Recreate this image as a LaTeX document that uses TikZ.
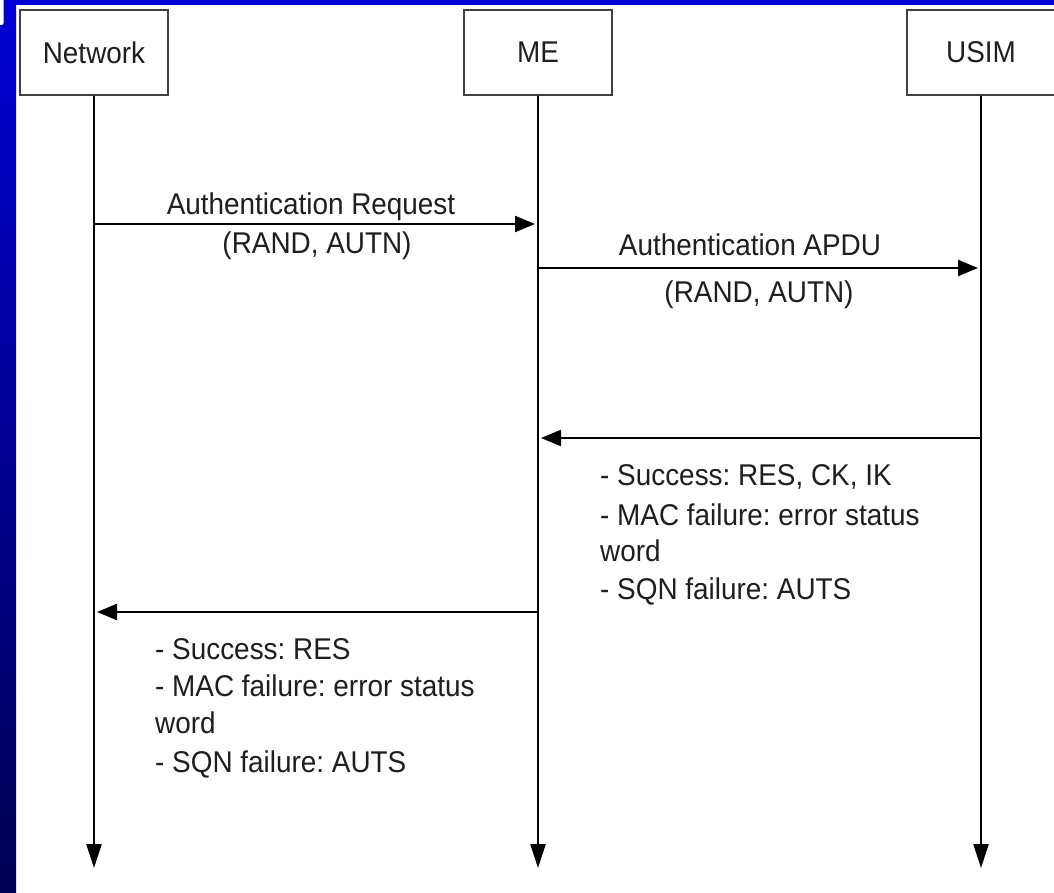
\documentclass[tikz,border=0pt]{standalone}
\usepackage{fontspec}
\setmainfont[FakeStretch=0.93]{Liberation Sans}
\usetikzlibrary{arrows.meta}
\definecolor{frameblue}{RGB}{0,0,212}
\definecolor{framenavy}{RGB}{0,0,82}
\definecolor{inkgray}{RGB}{30,30,30}
\frenchspacing
\begin{document}
\begin{tikzpicture}[x=1pt,y=-1pt,
  every node/.style={text=inkgray,font=\fontsize{30}{36}\selectfont},
  entity/.style={draw=inkgray!85,line width=2pt,fill=white,minimum width=148pt,minimum height=85pt,inner sep=0pt},
  lifeline/.style={draw=black,line width=2.2pt,-{Triangle[length=24pt,width=15pt]}},
  msg/.style={draw=black,line width=2.2pt,-{Triangle[length=20pt,width=16pt]},shorten >=3pt},
  msgtext/.style={inner sep=0pt,anchor=base},
  itemtext/.style={inner sep=0pt,anchor=base west}]
\useasboundingbox (0,0) rectangle (1054,893);
% window frame
\fill[white] (0,0) rectangle (1054,893);
\fill[frameblue] (0,0) rectangle (1054,5);
\shade[top color=frameblue,bottom color=framenavy] (0,0) rectangle (16,893);
\fill[white,rounded corners=2pt] (-4,-4) rectangle (3.5,25);

% participants
\node[entity] (net) at (94,52.5) {Network};
\node[entity] (me)  at (538,52.5) {ME};
\node[entity] (usim) at (981,52.5) {USIM};

% lifeline ends
\coordinate (netend)  at (94,868);
\coordinate (meend)   at (538,868);
\coordinate (usimend) at (981,868);
\draw[lifeline] (net.south) -- (netend);
\draw[lifeline] (me.south) -- (meend);
\draw[lifeline] (usim.south) -- (usimend);

% message anchor points on the lifelines
\coordinate (reqA) at (94,224);   \coordinate (reqB) at (538,224);
\coordinate (apduA) at (538,268); \coordinate (apduB) at (981,268);
\coordinate (rspA) at (981,438);  \coordinate (rspB) at (538,438);
\coordinate (resA) at (538,612);  \coordinate (resB) at (94,612);

\draw[msg] (reqA) -- (reqB);
\draw[msg] (apduA) -- (apduB);
\draw[msg] (rspA) -- (rspB);
\draw[msg] (resA) -- (resB);

% message labels
\node[msgtext] (reqlab)  at (311,215) {Authentication Request};
\node[msgtext] (reqpar)  at (317,254) {(RAND, AUTN)};
\node[msgtext] (apdulab) at (750,255) {Authentication APDU};
\node[msgtext] (apdupar) at (759,302) {(RAND, AUTN)};

% response from USIM
\node[itemtext] (r1) at (600,485) {- Success: RES, CK, IK};
\node[itemtext] (r2) at (600,525) {- MAC failure: error status};
\node[itemtext] (r3) at (600,561) {word};
\node[itemtext] (r4) at (600,599) {- SQN failure: AUTS};

% response to network
\node[itemtext] (n1) at (155,659) {- Success: RES};
\node[itemtext] (n2) at (155,696) {- MAC failure: error status};
\node[itemtext] (n3) at (155,733) {word};
\node[itemtext] (n4) at (155,772) {- SQN failure: AUTS};
\end{tikzpicture}
\end{document}
